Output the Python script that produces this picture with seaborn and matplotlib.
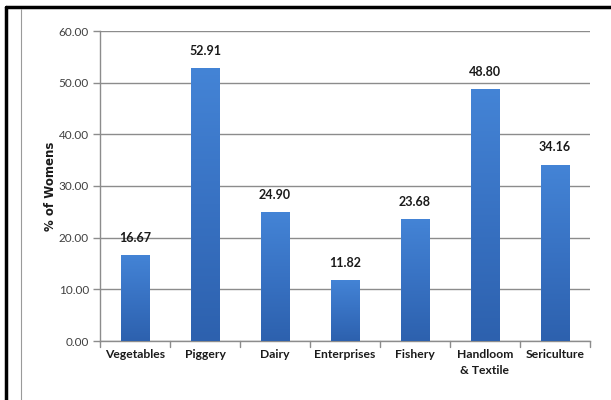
import matplotlib
matplotlib.use("Agg")
import matplotlib.pyplot as plt
import numpy as np
import pandas as pd
import seaborn as sns
from matplotlib.lines import Line2D

categories = ["Vegetables", "Piggery", "Dairy", "Enterprises", "Fishery",
              "Handloom\n& Textile", "Sericulture"]
women_pct = [16.67, 52.91, 24.90, 11.82, 23.68, 48.80, 34.16]
y_ticks = [0, 10, 20, 30, 40, 50, 60]

df = pd.DataFrame({"sector": categories, "pct": women_pct})

sns.set_theme(style="white")
plt.rcParams["font.family"] = ["Lato", "DejaVu Sans"]

fig = plt.figure(figsize=(6.11, 4.0), dpi=100)
ax = fig.add_axes([100 / 611, 1 - 341 / 400, 490 / 611, 310 / 400])

sns.barplot(data=df, x="sector", y="pct", color="#3A74C4", width=0.41,
            saturation=1, ax=ax, zorder=3)

# vertical shading inside each bar, lighter towards the top
grad = np.linspace(0, 1, 256).reshape(-1, 1)
cmap = matplotlib.colors.LinearSegmentedColormap.from_list(
    "barshade", ["#2D61AE", "#3872C3", "#4484D6"])
for p in ax.patches:
    x0, y0 = p.get_x(), p.get_y()
    w, h = p.get_width(), p.get_height()
    im = ax.imshow(grad, extent=[x0, x0 + w, y0, y0 + h], origin="lower",
                   cmap=cmap, aspect="auto", zorder=4)
    im.set_clip_path(p)
    p.set_edgecolor("#2F62A8")
    p.set_linewidth(0.6)

ax.set_xlim(-0.5, len(categories) - 0.5)
ax.set_ylim(0, 60)
ax.set_yticks(y_ticks)
ax.set_yticklabels([f"{v:.2f}" for v in y_ticks], fontsize=8.5, color="#404040")
ax.yaxis.grid(True, color="#8C8C8C", linewidth=1.0, zorder=0)
ax.set_axisbelow(True)

ax.set_xticks(range(len(categories)))
ax.set_xticklabels(categories, fontsize=8.7, fontweight="bold", color="#1A1A1A",
                   linespacing=1.5)
ax.tick_params(axis="x", length=0, pad=6)
ax.tick_params(axis="y", length=5, width=1, color="#8C8C8C", left=True, pad=3)

# category boundary ticks along the baseline
for b in np.arange(-0.5, len(categories), 1.0):
    ax.add_line(Line2D([b, b], [0, -1.1], color="#8C8C8C", lw=1,
                       clip_on=False, zorder=2))

for s in ["top", "right"]:
    ax.spines[s].set_visible(False)
for s in ["left", "bottom"]:
    ax.spines[s].set_color("#8C8C8C")
    ax.spines[s].set_linewidth(1)

ax.set_xlabel("")
ax.set_ylabel("% of Womens", fontsize=8.5, fontweight="bold", color="#1A1A1A",
              family="DejaVu Sans", labelpad=1)

for i, v in enumerate(women_pct):
    ax.annotate(f"{v:.2f}", (i, v), xytext=(0, 8), textcoords="offset points",
                ha="center", va="bottom", fontsize=9, fontweight="bold",
                color="#1A1A1A")

# page frame
fig.add_artist(Line2D([6 / 611, 1], [1 - 6.5 / 400, 1 - 6.5 / 400],
                      transform=fig.transFigure, color="black", lw=2.5))
fig.add_artist(Line2D([6 / 611, 6 / 611], [0, 1 - 6.5 / 400],
                      transform=fig.transFigure, color="black", lw=2.5))
fig.add_artist(Line2D([21 / 611, 21 / 611], [0, 1 - 9 / 400],
                      transform=fig.transFigure, color="#9A9A9A", lw=0.8))

fig.savefig("out.png", dpi=100)
